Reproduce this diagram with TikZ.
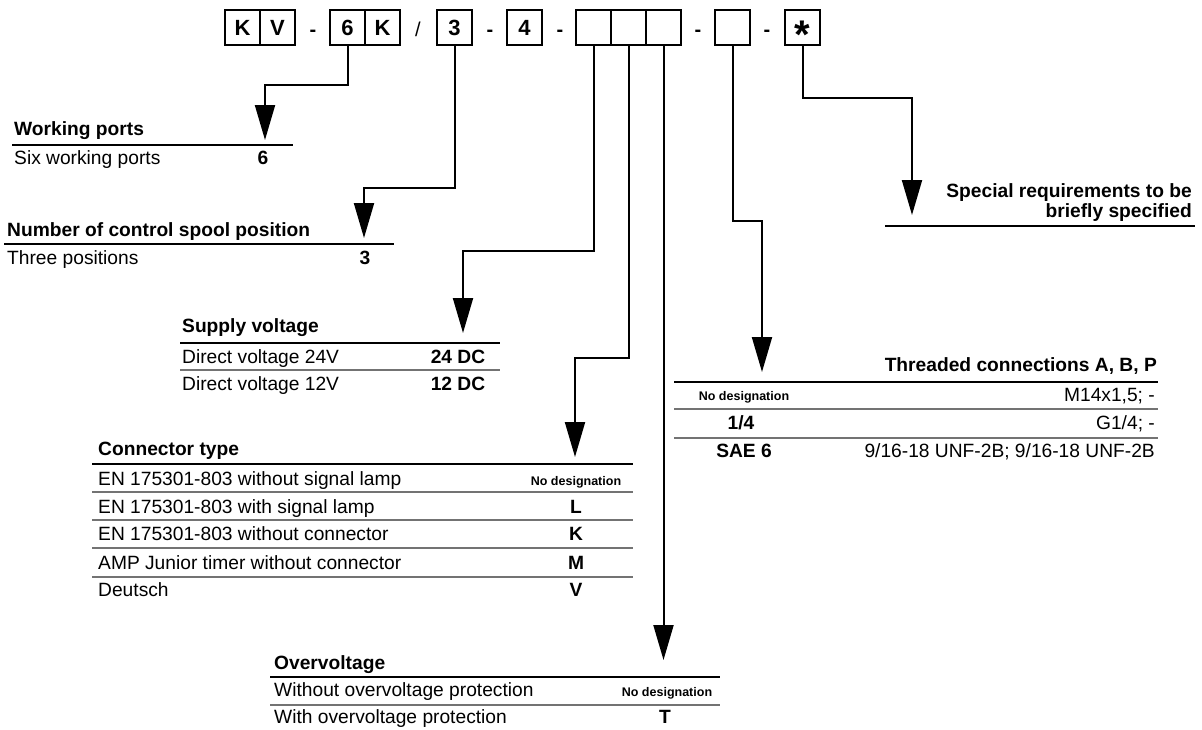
\documentclass[tikz,border=0pt]{standalone}
\usepackage{fontspec}
\setmainfont{Liberation Sans}
\usetikzlibrary{arrows.meta}

\begin{document}
\begin{tikzpicture}[x=1pt,y=-1pt,
    cell/.style={draw,line width=1.8pt,minimum size=35pt,inner sep=0pt,font=\fontsize{22}{24}\selectfont\bfseries},
    joiner/.style={anchor=base,inner sep=0pt,font=\fontsize{20}{22}\selectfont\bfseries},
    lead/.style={line width=2pt,-{Triangle[length=35pt,width=20pt]}},
    head/.style={anchor=base west,inner sep=0pt,font=\fontsize{19.2}{20}\selectfont\bfseries},
    txt/.style={anchor=base west,inner sep=0pt,font=\fontsize{19.2}{20}\selectfont},
    val/.style={anchor=base,inner sep=0pt,font=\fontsize{19.2}{20}\selectfont\bfseries},
    nodesig/.style={anchor=base,inner sep=0pt,font=\fontsize{12.5}{14}\selectfont\bfseries},
    rule/.style={line width=2.8pt},
    thinrule/.style={line width=1.1pt,black!55}]
  \useasboundingbox (0,0) rectangle (1202,729);

  % type code
  \node[cell] (ck) at (242.5,27.5) {K};
  \node[cell] (cv) at (277.5,27.5) {V};
  \node[joiner] (d1) at (313,36) {-};
  \node[cell] (c6) at (347.5,27.5) {6};
  \node[cell] (ck2) at (382.5,27.5) {K};
  \node[joiner,font=\fontsize{20}{22}\selectfont] (sl) at (418,36) {/};
  \node[cell] (c3) at (454.5,27.5) {3};
  \node[joiner] (d2) at (490,36) {-};
  \node[cell] (c4) at (524.5,27.5) {4};
  \node[joiner] (d3) at (560,36) {-};
  \foreach \i/\x in {1/593.5,2/628.5,3/663.5}
    \node[cell] (e\i) at (\x,27.5) {};
  \node[joiner] (d4) at (698,36) {-};
  \node[cell] (eb) at (732.5,27.5) {};
  \node[joiner] (d5) at (767,36) {-};
  \node[cell] (cs) at (802.5,27.5) {};
  \node[inner sep=0pt,font=\fontsize{40}{40}\selectfont\bfseries] (ast) at ([yshift=-7pt]cs.center) {*};

  % arrow ends
  \coordinate (wp) at (265,140);
  \coordinate (sp) at (364,238);
  \coordinate (sv) at (463,333);
  \coordinate (ct) at (575,457);
  \coordinate (ov) at (663.5,660);
  \coordinate (th) at (762,372);
  \coordinate (sr) at (912,215);

  \draw[lead] (c6.south) -- ++(0,39) -| (wp);
  \draw[lead] (c3.south) -- ++(0,142) -| (sp);
  \draw[lead] (e1.south) -- ++(0,205) -| (sv);
  \draw[lead] (e2.south) -- ++(0,312) -| (ct);
  \draw[lead] (e3.south) -- (ov);
  \draw[lead] (eb.south) -- ++(0,175) -| (th);
  \draw[lead] (cs.south) -- ++(0,52) -| (sr);

  % working ports
  \node[head] (wph) at (14,135) {Working ports};
  \draw[rule] (12,145) -- (293,145);
  \node[txt] (wp1) at (14,164) {Six working ports};
  \node[val] (wp1v) at (263,164) {6};

  % spool positions
  \node[head] (sph) at (7,236) {Number of control spool position};
  \draw[rule] (4,244) -- (394,244);
  \node[txt] (sp1) at (7,264) {Three positions};
  \node[val] (sp1v) at (365,264) {3};

  % supply voltage
  \node[head] (svh) at (182,332) {Supply voltage};
  \draw[rule] (180,343) -- (500,343);
  \node[txt] (sv1) at (182,363) {Direct voltage 24V};
  \node[val] (sv1v) at (458,363) {24 DC};
  \draw[thinrule] (180,370) -- (500,370);
  \node[txt] (sv2) at (182,390) {Direct voltage 12V};
  \node[val] (sv2v) at (458,390) {12 DC};

  % connector type
  \node[head] (cth) at (98,455) {Connector type};
  \draw[rule] (92,464) -- (633,464);
  \node[txt] (ct1) at (98,485) {EN 175301-803 without signal lamp};
  \node[nodesig] (ct1v) at (576,485) {No designation};
  \draw[thinrule] (92,492) -- (633,492);
  \node[txt] (ct2) at (98,513) {EN 175301-803 with signal lamp};
  \node[val] (ct2v) at (576,513) {L};
  \draw[thinrule] (92,520) -- (633,520);
  \node[txt] (ct3) at (98,540) {EN 175301-803 without connector};
  \node[val] (ct3v) at (576,540) {K};
  \draw[thinrule] (92,548) -- (633,548);
  \node[txt] (ct4) at (98,569) {AMP Junior timer without connector};
  \node[val] (ct4v) at (576,569) {M};
  \draw[thinrule] (92,577) -- (633,577);
  \node[txt] (ct5) at (98,596) {Deutsch};
  \node[val] (ct5v) at (576,596) {V};

  % overvoltage
  \node[head] (ovh) at (274,669) {Overvoltage};
  \draw[rule] (270,677) -- (720,677);
  \node[txt] (ov1) at (274,696) {Without overvoltage protection};
  \node[nodesig] (ov1v) at (667,696) {No designation};
  \draw[thinrule] (270,705) -- (720,705);
  \node[txt] (ov2) at (274,723) {With overvoltage protection};
  \node[val] (ov2v) at (665,723) {T};

  % threaded connections
  \node[head,anchor=base east] (thh) at (1157,371) {Threaded connections A, B, P};
  \draw[rule] (674,382) -- (1158,382);
  \node[nodesig] (th1) at (744,400) {No designation};
  \node[txt,anchor=base east] (th1v) at (1155,401) {M14x1,5; -};
  \draw[thinrule] (674,409) -- (1158,409);
  \node[val] (th2) at (741,429) {1/4};
  \node[txt,anchor=base east] (th2v) at (1155,429) {G1/4; -};
  \draw[thinrule] (674,438) -- (1158,438);
  \node[val] (th3) at (744,457) {SAE 6};
  \node[txt,anchor=base east] (th3v) at (1155,457) {9/16-18 UNF-2B; 9/16-18 UNF-2B};

  % special requirements
  \node[head,anchor=base east] (srh1) at (1192,197) {Special requirements to be};
  \node[head,anchor=base east] (srh2) at (1192,217) {briefly specified};
  \draw[rule] (885,226) -- (1195,226);
\end{tikzpicture}
\end{document}
